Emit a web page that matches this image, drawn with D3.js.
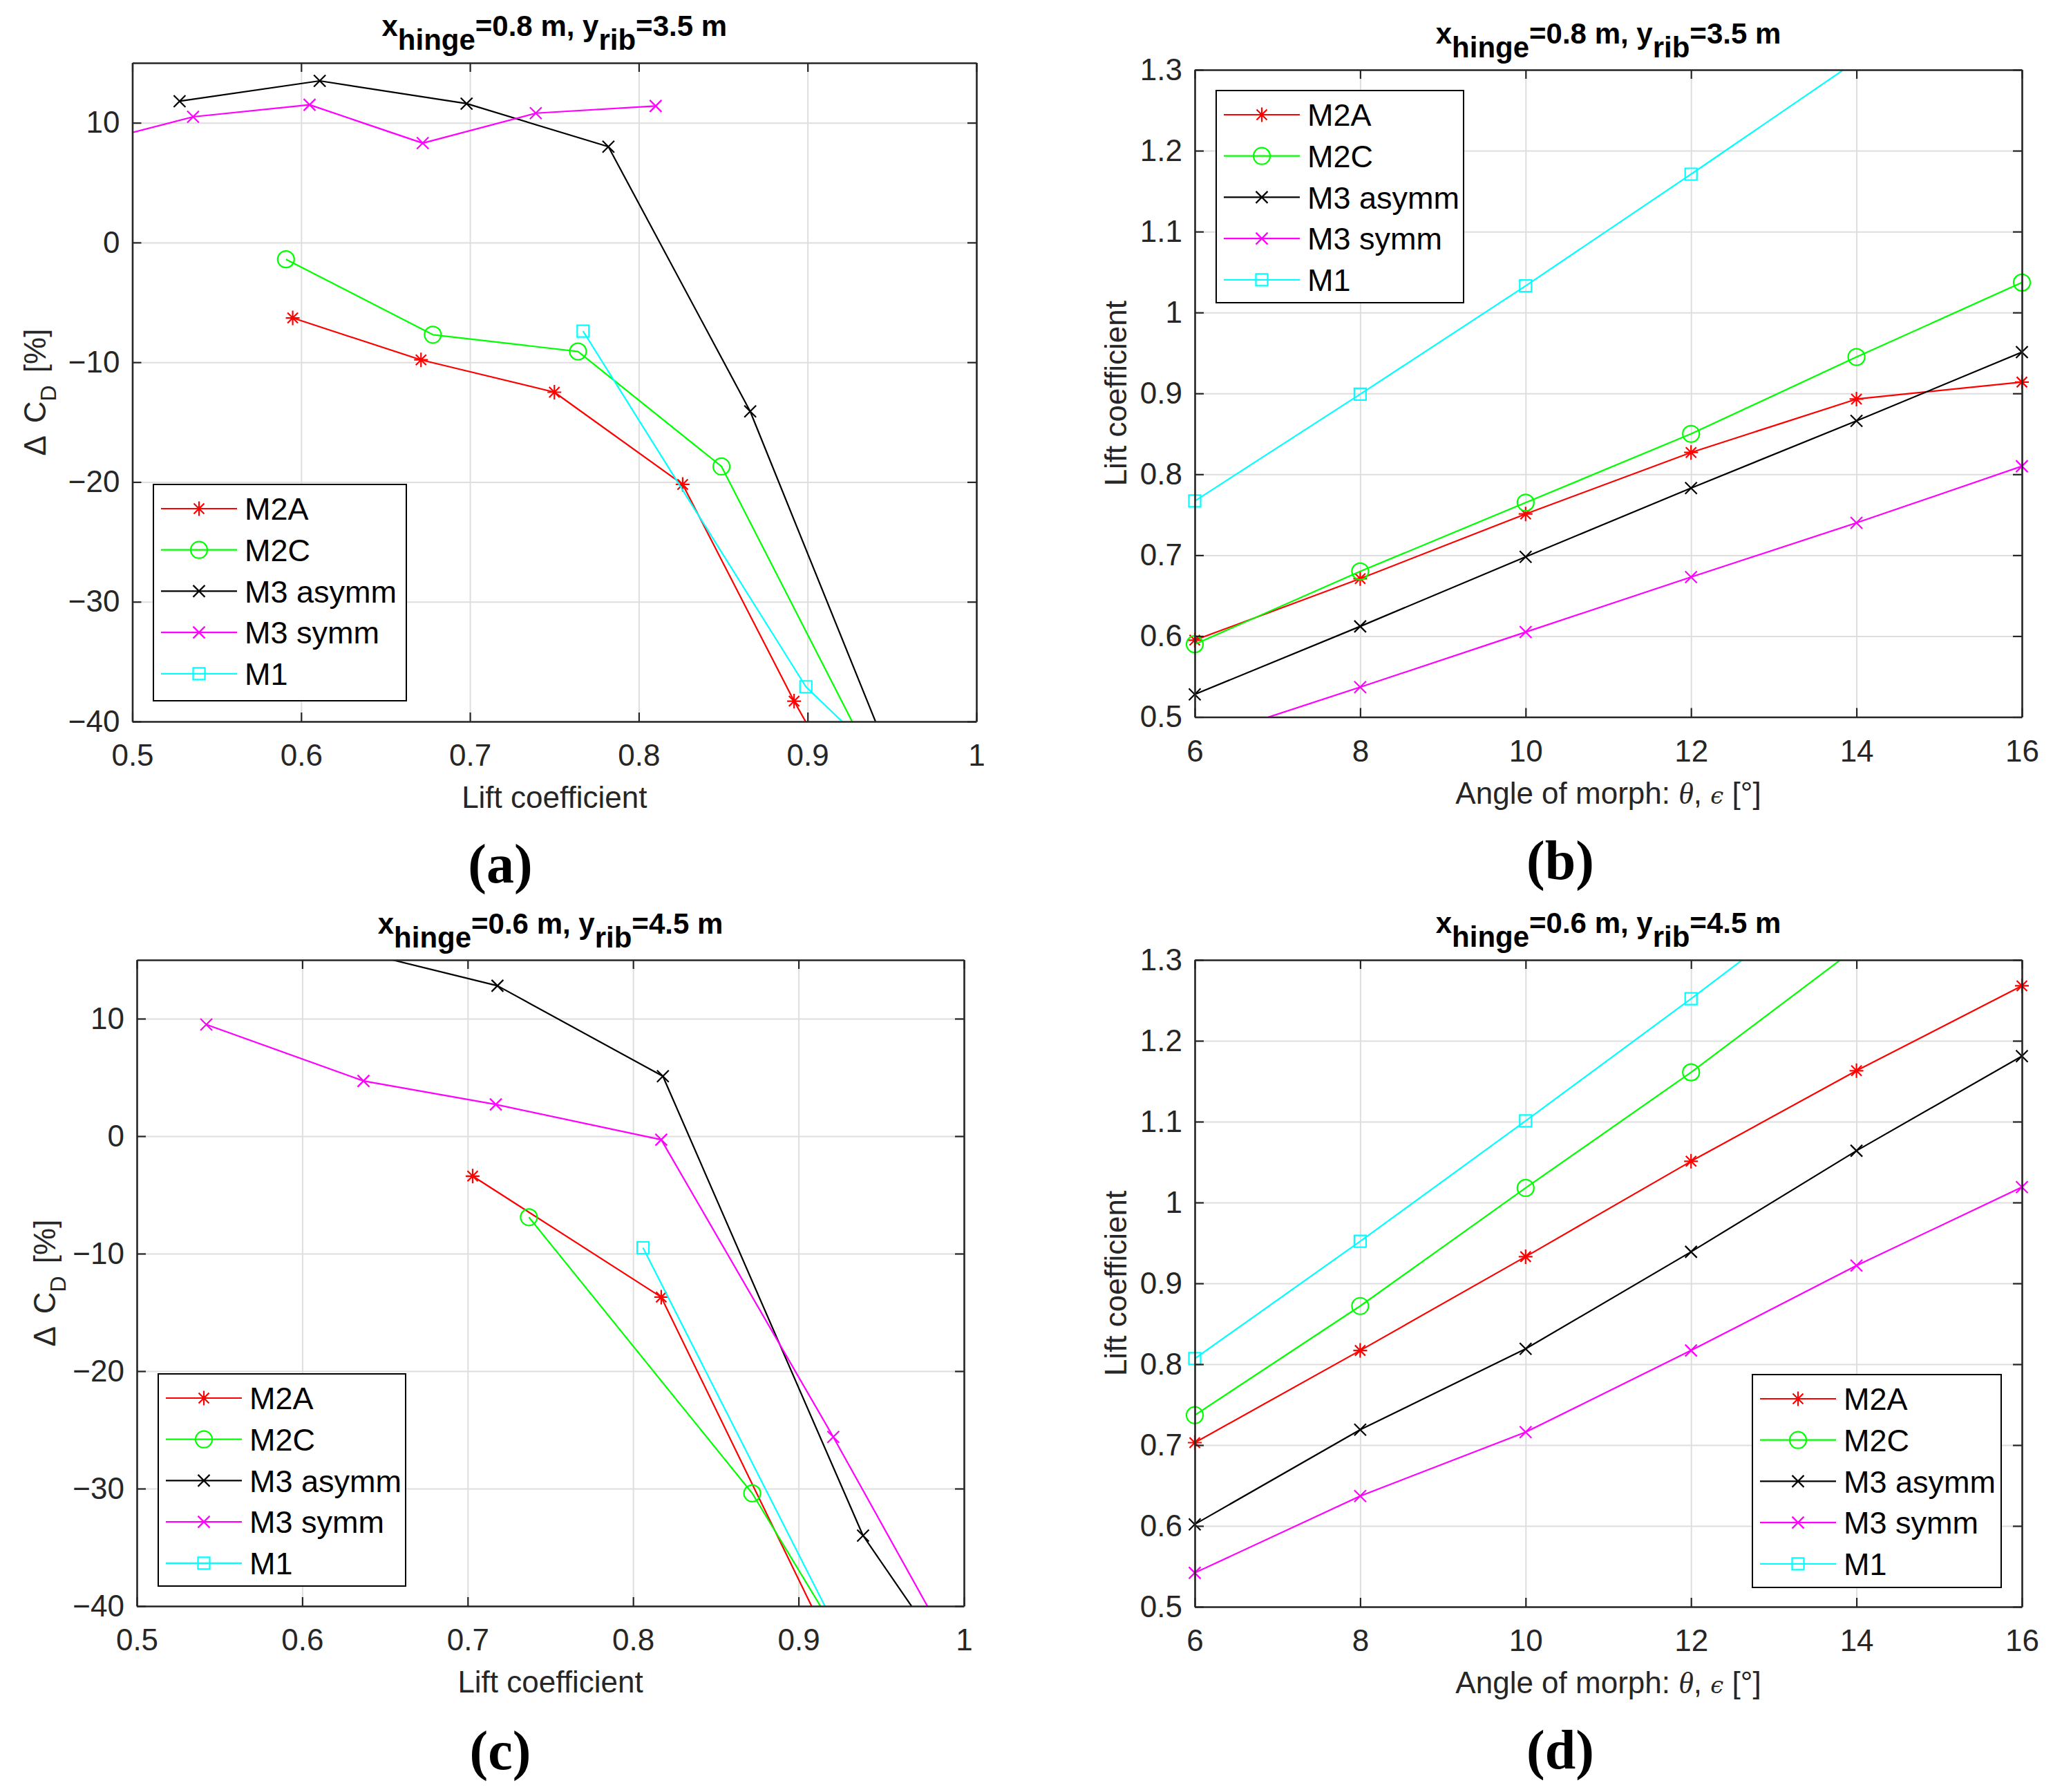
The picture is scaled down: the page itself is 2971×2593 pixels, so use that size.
<!DOCTYPE html>
<html>
<head>
<meta charset="utf-8">
<title>Morphing wing: drag change and lift</title>
<script src="https://cdn.jsdelivr.net/npm/d3@7"></script>
<style>
  body { margin: 0; background: #fff; }
  text { font-family: "Liberation Sans", Arial, Helvetica, sans-serif; }
</style>
</head>
<body>
<svg id="mainSvg" width="2971" height="2593"></svg>
<script>
// legend entries, same order in every panel
const seriesNames = ["M2A", "M2C", "M3 asymm", "M3 symm", "M1"];
const seriesColors = ["#ff0000", "#00ff00", "#000000", "#ff00ff", "#00ffff"];
const seriesMarkers = ["star", "circle", "cross", "cross", "square"];

// (a) x_hinge=0.8 m, y_rib=3.5 m : [lift coefficient, delta CD %]
const a_M2A = [[0.595, -6.3], [0.671, -9.8], [0.750, -12.5], [0.826, -20.2], [0.892, -38.3], [0.950, -52.8]];
const a_M2C = [[0.591, -1.4], [0.678, -7.7], [0.764, -9.1], [0.849, -18.7], [0.950, -46.5]];
const a_M3asymm = [[0.528, 11.8], [0.611, 13.5], [0.698, 11.6], [0.782, 8.0], [0.866, -14.1], [0.960, -46.9]];
const a_M3symm = [[0.465, 7.9], [0.536, 10.5], [0.605, 11.5], [0.672, 8.3], [0.739, 10.8], [0.810, 11.4]];
const a_M1 = [[0.767, -7.4], [0.899, -37.1], [0.950, -44.0]];

// (c) x_hinge=0.6 m, y_rib=4.5 m : [lift coefficient, delta CD %]
const c_M2A = [[0.703, -3.4], [0.817, -13.7], [0.930, -46.4]];
const c_M2C = [[0.737, -6.9], [0.872, -30.4], [0.930, -43.9]];
const c_M3asymm = [[0.620, 16.2], [0.718, 12.8], [0.818, 5.1], [0.939, -34.0], [1.000, -46.5]];
const c_M3symm = [[0.542, 9.5], [0.637, 4.7], [0.717, 2.7], [0.817, -0.3], [0.921, -25.6], [1.000, -45.6]];
const c_M1 = [[0.806, -9.5], [0.930, -43.9]];

// (b) and (d): lift coefficient against angle of morph
const angles = [6, 8, 10, 12, 14, 16];
const b_M2A = [0.595, 0.671, 0.751, 0.827, 0.893, 0.914];
const b_M2C = [0.590, 0.680, 0.765, 0.850, 0.945, 1.037];
const b_M3asymm = [0.528, 0.612, 0.698, 0.783, 0.866, 0.951];
const b_M3symm = [0.470, 0.537, 0.605, 0.673, 0.740, 0.810];
const b_M1 = [0.767, 0.899, 1.033, 1.171, 1.311, 1.452];

const d_M2A = [0.703, 0.817, 0.933, 1.051, 1.163, 1.268];
const d_M2C = [0.737, 0.872, 1.018, 1.161, 1.315, 1.469];
const d_M3asymm = [0.602, 0.719, 0.819, 0.939, 1.064, 1.181];
const d_M3symm = [0.542, 0.637, 0.716, 0.817, 0.922, 1.019];
const d_M1 = [0.807, 0.952, 1.101, 1.252, 1.407, 1.562];

// tick values
const cdTicks = [-40, -30, -20, -10, 0, 10];
const clTicks = [0.5, 0.6, 0.7, 0.8, 0.9, 1];
const angleTicks = [6, 8, 10, 12, 14, 16];
const liftTicks = [0.5, 0.6, 0.7, 0.8, 0.9, 1, 1.1, 1.2, 1.3];

const minus = s => String(s).replace("-", "\u2212");
const fmtOne = d => d === 1 ? "1" : d3.format(".1f")(d);

const panels = [
  { id: "a", letter: "(a)", kind: "drag", hinge: "0.8", rib: "3.5",
    series: [a_M2A, a_M2C, a_M3asymm, a_M3symm, a_M1],
    box: { left: 191.5, right: 1413, top: 91, bottom: 1044 },
    titleY: 52, yLabelX: 66, letterX: 724, letterY: 1277,
    legend: { x: 222, y: 701, w: 366, h: 313 } },
  { id: "b", letter: "(b)", kind: "lift", hinge: "0.8", rib: "3.5",
    series: [b_M2A, b_M2C, b_M3asymm, b_M3symm, b_M1].map(v => d3.zip(angles, v)),
    box: { left: 1729, right: 2926, top: 101, bottom: 1037.5 },
    titleY: 62.5, yLabelX: 1630, letterX: 2258, letterY: 1272,
    legend: { x: 1760, y: 131, w: 358, h: 307 } },
  { id: "c", letter: "(c)", kind: "drag", hinge: "0.6", rib: "4.5",
    series: [c_M2A, c_M2C, c_M3asymm, c_M3symm, c_M1],
    box: { left: 198, right: 1395, top: 1389, bottom: 2324 },
    titleY: 1351, yLabelX: 80, letterX: 724, letterY: 2560,
    legend: { x: 229, y: 1988, w: 358, h: 307 } },
  { id: "d", letter: "(d)", kind: "lift", hinge: "0.6", rib: "4.5",
    series: [d_M2A, d_M2C, d_M3asymm, d_M3symm, d_M1].map(v => d3.zip(angles, v)),
    box: { left: 1729, right: 2926, top: 1389, bottom: 2325 },
    titleY: 1350, yLabelX: 1630, letterX: 2258, letterY: 2559,
    legend: { x: 2536, y: 1989, w: 360, h: 308 } }
];

const svg = d3.select("#mainSvg");
svg.append("rect").attr("width", 2971).attr("height", 2593).attr("fill", "#fff");

const axisColor = "#262626";
const gridColor = "#dedede";
const tickFont = 44;

// MATLAB-like marker glyphs, centred on 0,0
function markerPath(type) {
  if (type === "circle") return "M12,0A12,12,0,1,1,-12,0A12,12,0,1,1,12,0Z";
  if (type === "square") return "M-8.5,-8.5H8.5V8.5H-8.5Z";
  if (type === "cross") return "M-8.5,-8.5L8.5,8.5M-8.5,8.5L8.5,-8.5";
  // star: plus and cross together
  return "M0,-10.5V10.5M-10,0H10M-7.5,-7.5L7.5,7.5M-7.5,7.5L7.5,-7.5";
}

panels.forEach(p => {
  const b = p.box;
  const w = b.right - b.left, h = b.bottom - b.top;
  const isDrag = p.kind === "drag";

  const x = d3.scaleLinear().domain(isDrag ? [0.5, 1] : [6, 16]).range([0, w]);
  const y = d3.scaleLinear().domain(isDrag ? [-40, 15] : [0.5, 1.3]).range([h, 0]);
  const xt = isDrag ? clTicks : angleTicks;
  const yt = isDrag ? cdTicks : liftTicks;
  const xFmt = isDrag ? fmtOne : d => String(d);
  const yFmt = isDrag ? d => minus(d) : fmtOne;

  const g = svg.append("g").attr("transform", `translate(${b.left},${b.top})`);

  // grid
  g.append("g").attr("transform", `translate(0,${h})`)
    .call(d3.axisBottom(x).tickValues(xt).tickSize(-h).tickFormat(""))
    .call(s => s.select(".domain").remove())
    .call(s => s.selectAll("line").attr("stroke", gridColor).attr("stroke-width", 2));
  g.append("g")
    .call(d3.axisLeft(y).tickValues(yt).tickSize(-w).tickFormat(""))
    .call(s => s.select(".domain").remove())
    .call(s => s.selectAll("line").attr("stroke", gridColor).attr("stroke-width", 2));

  // data
  const clipId = "clip-" + p.id;
  g.append("clipPath").attr("id", clipId)
    .append("rect").attr("width", w).attr("height", h);
  const line = d3.line().x(d => x(d[0])).y(d => y(d[1]));
  const plot = g.append("g");
  p.series.forEach((pts, i) => {
    plot.append("path")
      .attr("d", line(pts))
      .attr("clip-path", `url(#${clipId})`)
      .attr("fill", "none")
      .attr("stroke", seriesColors[i])
      .attr("stroke-width", 2.2)
      .attr("stroke-linejoin", "round");
    const [x0, x1] = x.domain(), [y0, y1] = y.domain();
    plot.selectAll(null)
      .data(pts.filter(d => d[0] >= x0 && d[0] <= x1 && d[1] >= y0 && d[1] <= y1))
      .join("path")
      .attr("transform", d => `translate(${x(d[0])},${y(d[1])})`)
      .attr("d", markerPath(seriesMarkers[i]))
      .attr("fill", "none")
      .attr("stroke", seriesColors[i])
      .attr("stroke-width", 2.2);
  });

  // axes: labelled bottom/left, bare top/right, all ticks pointing inward
  const styleAxis = s => {
    s.select(".domain").attr("stroke", axisColor).attr("stroke-width", 2.6);
    s.selectAll(".tick line").attr("stroke", axisColor).attr("stroke-width", 2.2);
    s.selectAll(".tick text").attr("fill", axisColor)
      .style("font-size", tickFont + "px").style("font-family", '"Liberation Sans", Arial, sans-serif');
  };
  g.append("g").attr("transform", `translate(0,${h})`)
    .call(d3.axisBottom(x).tickValues(xt).tickSizeInner(-13).tickSizeOuter(0).tickPadding(33).tickFormat(xFmt))
    .call(styleAxis);
  g.append("g")
    .call(d3.axisLeft(y).tickValues(yt).tickSizeInner(-13).tickSizeOuter(0).tickPadding(18).tickFormat(yFmt))
    .call(styleAxis);
  g.append("g")
    .call(d3.axisTop(x).tickValues(xt).tickSizeInner(-13).tickSizeOuter(0).tickFormat(""))
    .call(styleAxis);
  g.append("g").attr("transform", `translate(${w},0)`)
    .call(d3.axisRight(y).tickValues(yt).tickSizeInner(-13).tickSizeOuter(0).tickFormat(""))
    .call(styleAxis);

  // legend
  const L = p.legend;
  const lg = svg.append("g").attr("transform", `translate(${L.x},${L.y})`);
  lg.append("rect").attr("width", L.w).attr("height", L.h)
    .attr("fill", "#fff").attr("stroke", "#000").attr("stroke-width", 2);
  seriesNames.forEach((name, i) => {
    const ry = 35 + i * 59.7;
    lg.append("line").attr("x1", 11).attr("x2", 121).attr("y1", ry).attr("y2", ry)
      .attr("stroke", seriesColors[i]).attr("stroke-width", 2.2);
    lg.append("path").attr("transform", `translate(66,${ry})`)
      .attr("d", markerPath(seriesMarkers[i]))
      .attr("fill", "none").attr("stroke", seriesColors[i]).attr("stroke-width", 2.2);
    lg.append("text").attr("x", 132).attr("y", ry).attr("dy", "0.36em")
      .style("font-size", "45px").attr("fill", "#000").text(name);
  });

  // title
  const cx = (b.left + b.right) / 2;
  const t = svg.append("text").attr("x", cx).attr("y", p.titleY)
    .attr("text-anchor", "middle").style("font-size", "42px").style("font-weight", "bold").attr("fill", "#000");
  t.append("tspan").text("x");
  t.append("tspan").attr("dy", 20).text("hinge");
  t.append("tspan").attr("dy", -20).text(`=${p.hinge} m, y`);
  t.append("tspan").attr("dy", 20).text("rib");
  t.append("tspan").attr("dy", -20).text(`=${p.rib} m`);

  // x label
  const xl = svg.append("text").attr("x", cx).attr("y", b.bottom + 125)
    .attr("text-anchor", "middle").style("font-size", "44px").attr("fill", axisColor);
  if (isDrag) {
    xl.text("Lift coefficient");
  } else {
    xl.append("tspan").text("Angle of morph: ");
    xl.append("tspan").style("font-family", '"Liberation Serif", "Times New Roman", serif')
      .style("font-style", "italic").text("\u03b8");
    xl.append("tspan").text(", ");
    xl.append("tspan").style("font-family", '"DejaVu Serif", "Liberation Serif", serif')
      .style("font-style", "italic").style("font-size", "34px").text("\u03f5");
    xl.append("tspan").text(" [\u00b0]");
  }

  // y label
  const cy = (b.top + b.bottom) / 2;
  const yl = svg.append("text")
    .attr("transform", `translate(${p.yLabelX},${cy}) rotate(-90)`)
    .attr("text-anchor", "middle").style("font-size", "44px").attr("fill", axisColor);
  if (isDrag) {
    yl.append("tspan").text("\u0394");
    yl.append("tspan").attr("dx", 8).text(" C");
    yl.append("tspan").attr("dy", 15).style("font-size", "32px").text("D");
    yl.append("tspan").attr("dy", -15).attr("dx", 6).text(" [%]");
  } else {
    yl.text("Lift coefficient");
  }

  // panel letter
  svg.append("text").attr("x", p.letterX).attr("y", p.letterY)
    .attr("text-anchor", "middle")
    .style("font-family", '"Liberation Serif", "Times New Roman", serif')
    .style("font-weight", "bold").style("font-size", "80px").attr("fill", "#000")
    .text(p.letter);
});
</script>
</body>
</html>
